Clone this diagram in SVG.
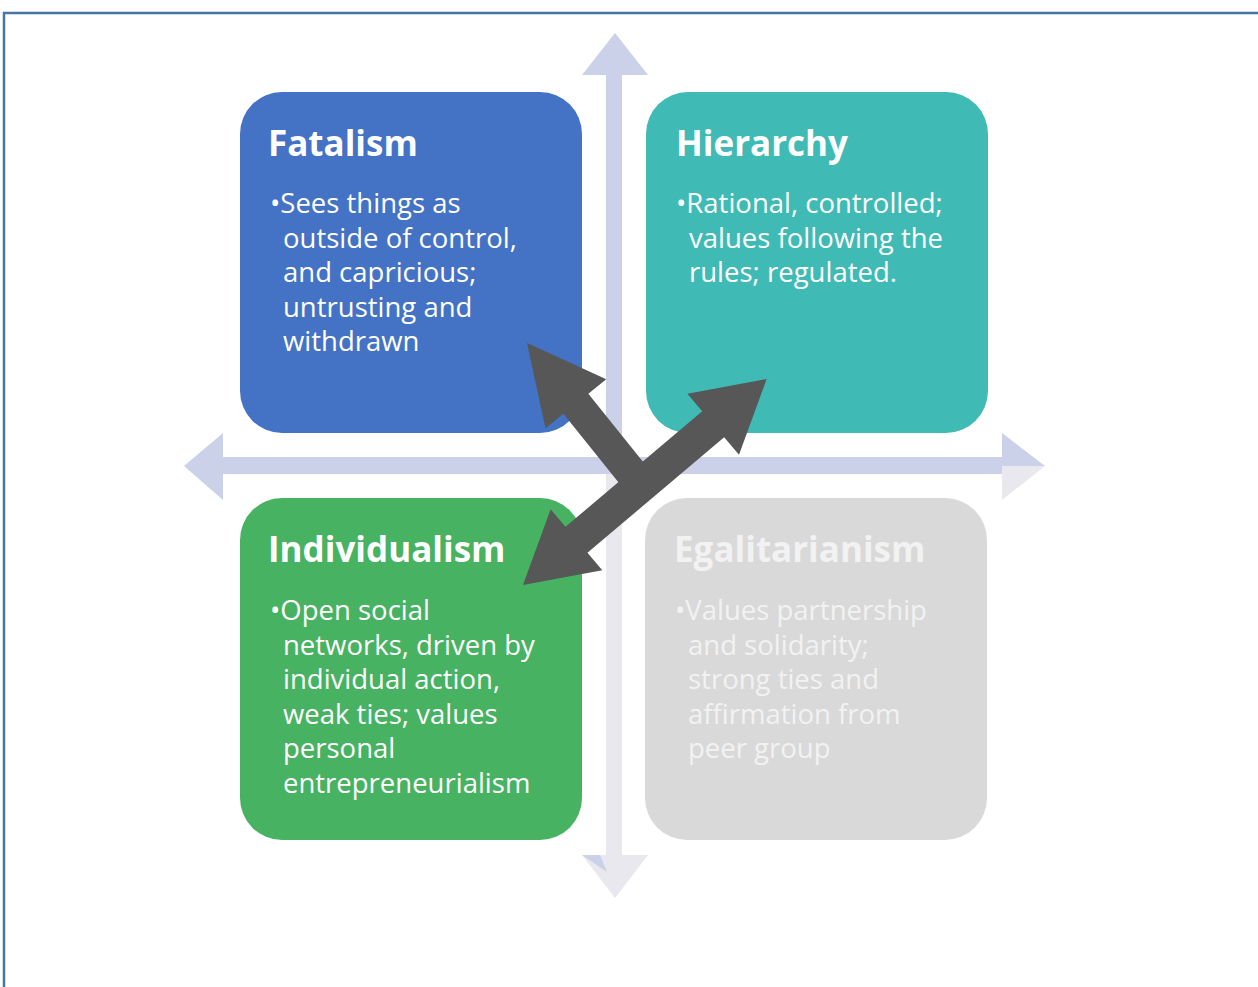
<svg xmlns="http://www.w3.org/2000/svg" width="1258" height="987" viewBox="0 0 1258 987">
<style>
.title{font-family:"Open Sans","Noto Sans",sans-serif;font-weight:bold;font-size:35px;fill:#ffffff}
.body{font-family:"Open Sans","Noto Sans",sans-serif;font-size:27.5px;fill:#ffffff}
.egal{fill:#f2f2f2}
.axis{fill:#cbd1e8}
.axisg{fill:#e8e8ee}
.dark{fill:#575757}
</style>
<rect width="1258" height="987" fill="#ffffff"/>
<path d="M4,987 V13 H1258" fill="none" stroke="#4a74a6" stroke-width="2.5"/>
<g id="axes">
<rect class="axisg" x="606" y="466" width="16" height="392"/>
<polygon class="axisg" points="582,855 648,855 615,898"/>
<polygon class="axis" points="582,855 600,855 607,872"/>
<rect class="axis" x="606" y="72" width="16" height="394"/>
<polygon class="axis" points="615,33 582,75 648,75"/>
<rect class="axis" x="220" y="457" width="785" height="17"/>
<polygon class="axis" points="184,466 223,433 223,500"/>
<polygon class="axis" points="1045,466 1002,433 1002,466"/>
<polygon class="axisg" points="1045,466 1002,466 1002,500"/>
</g>
<g id="fatalism">
<rect x="240" y="92" width="342" height="341" rx="42" fill="#4472c4"/>
<text class="title" x="268" y="156">Fatalism</text>
<text class="body" x="270" y="213">•Sees things as</text>
<text class="body" x="283" y="248">outside of control,</text>
<text class="body" x="283" y="282">and capricious;</text>
<text class="body" x="283" y="317">untrusting and</text>
<text class="body" x="283" y="351">withdrawn</text>
</g>
<g id="hierarchy">
<rect x="646" y="92" width="342" height="341" rx="42" fill="#40bab5"/>
<text class="title" x="676" y="156">Hierarchy</text>
<text class="body" x="676" y="213">•Rational, controlled;</text>
<text class="body" x="689" y="248">values following the</text>
<text class="body" x="689" y="282">rules; regulated.</text>
</g>
<g id="individualism">
<rect x="240" y="498" width="342" height="342" rx="42" fill="#47b262"/>
<text class="title" x="268" y="562">Individualism</text>
<text class="body" x="270" y="620">•Open social</text>
<text class="body" x="283" y="655">networks, driven by</text>
<text class="body" x="283" y="689">individual action,</text>
<text class="body" x="283" y="724">weak ties; values</text>
<text class="body" x="283" y="758">personal</text>
<text class="body" x="283" y="793">entrepreneurialism</text>
</g>
<g id="egalitarianism">
<rect x="645" y="498" width="342" height="342" rx="42" fill="#d9d9d9"/>
<text class="title egal" x="674" y="562">Egalitarianism</text>
<text class="body egal" x="675" y="620">•Values partnership</text>
<text class="body egal" x="688" y="655">and solidarity;</text>
<text class="body egal" x="688" y="689">strong ties and</text>
<text class="body egal" x="688" y="724">affirmation from</text>
<text class="body egal" x="688" y="758">peer group</text>
</g>
<g id="connectors">
<polygon class="dark" transform="translate(523,585) rotate(-40.2)" points="0,0 70,-40 70,-17 249,-17 249,-40 319,0 249,40 249,17 70,17 70,40"/>
<polygon class="dark" transform="translate(527,343) rotate(51.2)" points="0,0 78,-39 78,-16 185,-16 185,16 78,16 78,39"/>
</g>
</svg>
